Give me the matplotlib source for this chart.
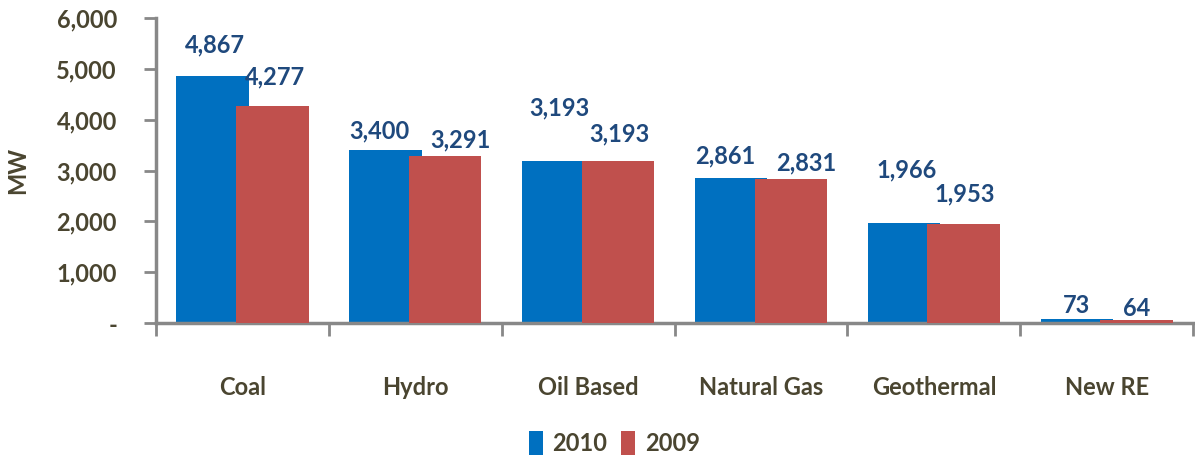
import matplotlib
matplotlib.use("Agg")
import matplotlib.pyplot as plt
from matplotlib.ticker import FuncFormatter, FixedLocator
import numpy as np

categories = ["Coal", "Hydro", "Oil Based", "Natural Gas", "Geothermal", "New RE"]
mw_2010 = [4867, 3400, 3193, 2861, 1966, 73]
mw_2009 = [4277, 3291, 3193, 2831, 1953, 64]

# value-label placement (points): baseline lift above the bar top, sideways nudge
lift_2010 = [16.6, 8.6, 32.4, 10.0, 33.0, 4.3]
lift_2009 = [15.0, 5.8, 13.7, 6.5, 15.8, 2.9]
nudge_2010 = [2, -4, 1, -4, 2, 0]
nudge_2009 = [2, 11, 1, 11, 1, 0]

BLUE, RED = "#0070C0", "#C0504D"
LABEL_C = "#1F497D"
TEXT_C = "#4A4530"
AXIS_C = "#888888"
FONT = "Lato"
FS = 17


def main():
    fig = plt.figure(figsize=(11.95, 4.61), dpi=100)
    ax = fig.add_axes([0.1305, 0.2993, 0.868, 0.6617])

    x = np.arange(len(categories))
    w, off = 0.42, 0.173
    b10 = ax.bar(x - off, mw_2010, w, color=BLUE, label="2010", zorder=2)
    b09 = ax.bar(x + off, mw_2009, w, color=RED, label="2009", zorder=3)

    for bars, vals, lifts, nudges in [(b10, mw_2010, lift_2010, nudge_2010),
                                      (b09, mw_2009, lift_2009, nudge_2009)]:
        for r, v, dy, dx in zip(bars, vals, lifts, nudges):
            ax.annotate(f"{v:,}", xy=(r.get_x() + r.get_width() / 2, v),
                        xytext=(dx, dy), textcoords="offset points",
                        ha="center", va="baseline", fontsize=FS, fontweight="bold",
                        color=LABEL_C, family=FONT, zorder=4)

    ax.set_xlim(-0.5, len(categories) - 0.5)
    ax.set_ylim(0, 6000)
    ax.set_yticks(np.arange(0, 6001, 1000))
    ax.yaxis.set_major_formatter(FuncFormatter(lambda v, _: "-" if v == 0 else f"{v:,.0f}"))

    ax.set_xticks(x)
    ax.set_xticklabels(categories)
    ax.xaxis.set_minor_locator(FixedLocator(np.arange(-0.5, len(categories), 1.0)))
    ax.tick_params(axis="x", which="major", length=0, pad=38)
    ax.tick_params(axis="x", which="minor", length=9, width=2, color=AXIS_C)
    ax.tick_params(axis="y", length=9, width=2, color=AXIS_C, pad=19)

    for lab in ax.get_xticklabels() + ax.get_yticklabels():
        lab.set_fontsize(FS)
        lab.set_fontweight("bold")
        lab.set_color(TEXT_C)
        lab.set_family(FONT)

    for s in ["top", "right"]:
        ax.spines[s].set_visible(False)
    for s in ["left", "bottom"]:
        ax.spines[s].set_color(AXIS_C)
        ax.spines[s].set_linewidth(2.5)

    ax.set_ylabel("MW", fontsize=FS, fontweight="bold", color=TEXT_C, family=FONT, labelpad=20)

    fig.legend(handles=[b10, b09], loc="center", bbox_to_anchor=(0.514, 0.039), ncol=2,
               frameon=False, handlelength=0.6, handleheight=1.2, handletextpad=0.4,
               columnspacing=0.6, prop={"family": FONT, "weight": "bold", "size": FS},
               labelcolor=TEXT_C)

    fig.savefig("out.png", dpi=100)
    plt.close(fig)


if __name__ == "__main__":
    main()
